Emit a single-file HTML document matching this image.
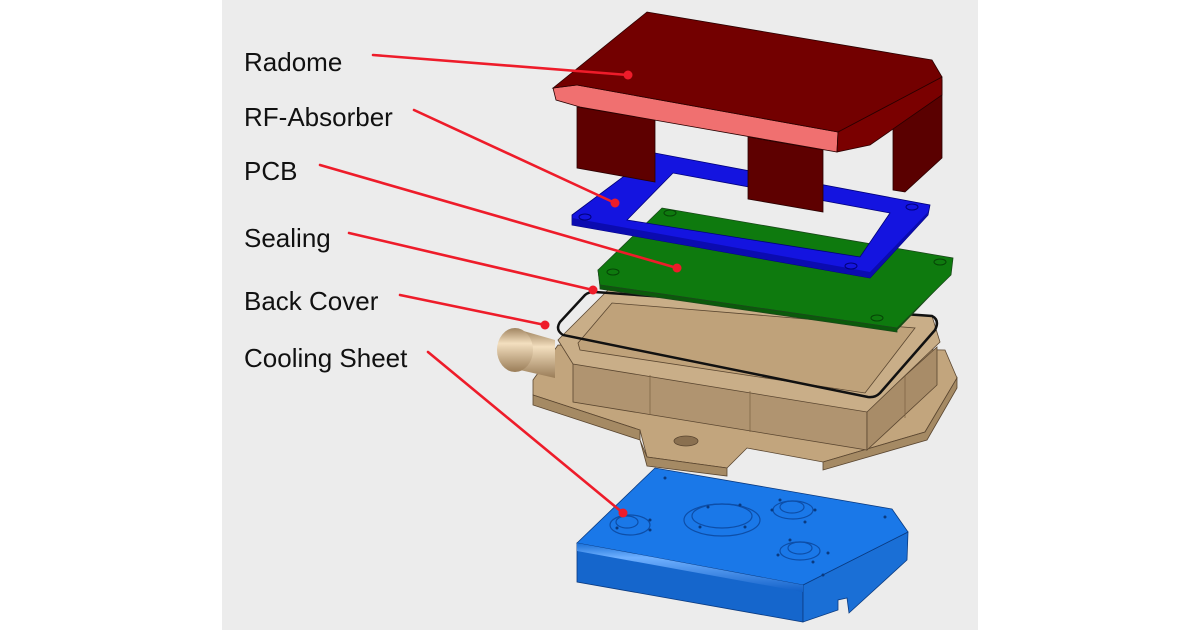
<!DOCTYPE html>
<html><head><meta charset="utf-8"><style>
html,body{margin:0;padding:0;background:#fff;}
svg{display:block;}
text{font-family:"Liberation Sans",Arial,sans-serif;font-size:26px;fill:#111;}
</style></head><body>
<svg width="1200" height="630" viewBox="0 0 1200 630" xmlns="http://www.w3.org/2000/svg">
<defs>
<linearGradient id="cyl" x1="0" y1="0" x2="0" y2="1">
<stop offset="0" stop-color="#a08460"/><stop offset="0.35" stop-color="#f3dfbf"/><stop offset="1" stop-color="#9a7d58"/></linearGradient>
<linearGradient id="bl" x1="0" y1="0" x2="0" y2="1">
<stop offset="0" stop-color="#1a6fd6"/><stop offset="0.3" stop-color="#6fb0ff"/><stop offset="1" stop-color="#1160c8"/></linearGradient>
</defs>
<rect x="222" y="0" width="756" height="630" fill="#ececec"/>

<!-- Cooling sheet -->
<g stroke="#0a3a80" stroke-width="0.8">
<polygon points="577,543 803,585 803,622 577,582" fill="#1566cc"/>
<polygon points="803,585 908,532 907,560 849,613 847,598 838,600 838,610 803,622" fill="#1a6fd6"/>
<polygon points="577,543 655,468 892,509 908,532 803,585" fill="#1a78e8"/>
<polygon points="577,543 803,585 803,592 577,551" fill="url(#bl)" stroke="none"/>
</g>
<g fill="none" stroke="#0d4ea8" stroke-width="1.2">
<ellipse cx="630" cy="525" rx="20" ry="10"/><ellipse cx="627" cy="522" rx="11" ry="6"/>
<ellipse cx="722" cy="520" rx="38" ry="16"/><ellipse cx="722" cy="516" rx="30" ry="12"/>
<ellipse cx="793" cy="510" rx="20" ry="9"/><ellipse cx="792" cy="507" rx="12" ry="6"/>
<ellipse cx="800" cy="551" rx="20" ry="9"/><ellipse cx="800" cy="548" rx="12" ry="6"/>
</g>
<g fill="#0a3a80">
<circle cx="665" cy="478" r="1.5"/><circle cx="885" cy="517" r="1.5"/><circle cx="823" cy="575" r="1.5"/>
<circle cx="617" cy="528" r="1.5"/><circle cx="650" cy="530" r="1.5"/><circle cx="650" cy="520" r="1.5"/>
<circle cx="700" cy="527" r="1.5"/><circle cx="745" cy="527" r="1.5"/><circle cx="708" cy="507" r="1.5"/><circle cx="740" cy="505" r="1.5"/>
<circle cx="772" cy="510" r="1.5"/><circle cx="815" cy="510" r="1.5"/><circle cx="780" cy="500" r="1.5"/><circle cx="805" cy="522" r="1.5"/>
<circle cx="778" cy="555" r="1.5"/><circle cx="828" cy="553" r="1.5"/><circle cx="790" cy="540" r="1.5"/><circle cx="813" cy="562" r="1.5"/>
</g>

<!-- Back cover -->
<g stroke="#5a4630" stroke-width="0.8">
<!-- flange -->
<polygon points="533,380 558,345 945,350 957,378 925,432 823,462 747,448 727,468 647,457 640,430 533,395" fill="#c2a57d"/>
<polygon points="533,395 640,430 640,440 533,405" fill="#a58a64"/>
<polygon points="823,462 925,432 957,378 957,388 927,440 823,470" fill="#a58a64"/>
<polygon points="640,440 647,457 727,468 727,476 647,466" fill="#a58a64"/>
<ellipse cx="686" cy="441" rx="12" ry="5" fill="#8a7050"/>
<!-- walls -->
<polygon points="573,362 867,410 867,450 573,402" fill="#b09470"/>
<polygon points="867,410 937,347 937,385 867,450" fill="#a88c68"/>
<!-- top rim -->
<polygon points="558,340 610,288 932,316 940,342 867,412 573,364" fill="#c9ae88"/>
<polygon points="578,343 612,303 915,328 865,393 580,350" fill="#bfa27a"/>
</g>
<g stroke="#7a6040" stroke-width="0.7">
<line x1="650" y1="375" x2="650" y2="415"/><line x1="750" y1="391" x2="750" y2="432"/><line x1="905" y1="376" x2="905" y2="418"/>
</g>
<path d="M520,330 L555,340 L555,378 L520,370 Z" fill="url(#cyl)"/>
<ellipse cx="515" cy="350" rx="18" ry="22" fill="url(#cyl)"/>
<!-- sealing ring -->
<path d="M595,292 L932,316 Q940,320 935,330 L880,393 Q875,398 868,397 L563,335 Q555,330 560,322 L585,295 Q588,292 595,292 Z" fill="none" stroke="#111" stroke-width="2.5"/>

<!-- PCB -->
<g stroke="#1a4a1a" stroke-width="0.8">
<polygon points="598,270 600,287 897,330 950,275" fill="#0b5a0b"/>
<polygon points="598,270 662,208 953,258 951,275 897,328 600,285" fill="#0e7a0e"/>
<polygon points="600,285 897,328 897,332 600,289" fill="#0b5a0b"/>
</g>
<g fill="none" stroke="#064506" stroke-width="1"><ellipse cx="613" cy="272" rx="6" ry="3"/><ellipse cx="670" cy="213" rx="6" ry="3"/><ellipse cx="940" cy="262" rx="6" ry="3"/><ellipse cx="877" cy="318" rx="6" ry="3"/></g>

<!-- RF absorber -->
<path fill-rule="evenodd" d="M572,215 L655,153 L930,205 L928,215 L870,278 L572,225 Z M627,220 L673,173 L890,213 L860,257 Z" fill="#1414e0" stroke="#00007a" stroke-width="0.8"/>
<path d="M572,225 L870,278 L928,215 L928,212 L870,272 L572,218 Z" fill="#0b0bb0"/>
<g fill="none" stroke="#00007a" stroke-width="1"><ellipse cx="585" cy="217" rx="6" ry="3"/><ellipse cx="912" cy="207" rx="6" ry="3"/><ellipse cx="851" cy="266" rx="6" ry="3"/></g>

<!-- Radome -->
<g stroke="#2a0000" stroke-width="0.8">
<polygon points="577,107 655,120 655,182 577,168" fill="#5e0000"/>
<polygon points="748,137 823,150 823,212 748,199" fill="#5e0000"/>
<polygon points="893,100 942,80 942,158 905,192 893,190" fill="#5a0000"/>
<polygon points="553,88 577,85 838,132 837,152 580,107 556,100" fill="#f07070"/>
<polygon points="838,132 942,77 942,95 870,145 837,152" fill="#7a0000"/>
<polygon points="553,88 647,12 932,60 942,77 838,132 577,85" fill="#730000"/>
</g>

<!-- leader lines -->
<g stroke="#ee1c2a" stroke-width="2.6" fill="none" stroke-linecap="round">
<line x1="373" y1="55" x2="628" y2="75"/>
<line x1="414" y1="110" x2="615" y2="203"/>
<line x1="320" y1="165" x2="677" y2="268"/>
<line x1="349" y1="233" x2="593" y2="290"/>
<line x1="400" y1="295" x2="545" y2="325"/>
<line x1="428" y1="352" x2="623" y2="513"/>
</g>
<g fill="#ee1c2a">
<circle cx="628" cy="75" r="4.5"/><circle cx="615" cy="203" r="4.5"/><circle cx="677" cy="268" r="4.5"/>
<circle cx="593" cy="290" r="4.5"/><circle cx="545" cy="325" r="4.5"/><circle cx="623" cy="513" r="4.5"/>
</g>

<text x="244" y="71">Radome</text>
<text x="244" y="126">RF-Absorber</text>
<text x="244" y="180">PCB</text>
<text x="244" y="247">Sealing</text>
<text x="244" y="310">Back Cover</text>
<text x="244" y="367">Cooling Sheet</text>
</svg>
</body></html>
